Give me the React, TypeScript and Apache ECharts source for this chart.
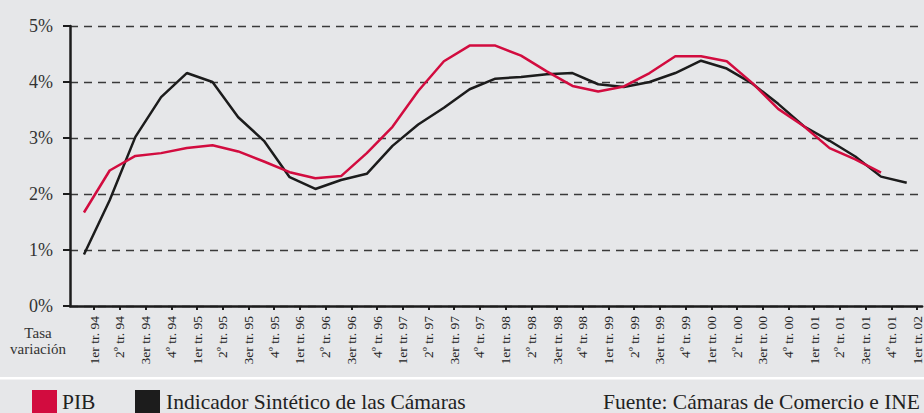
import React, { useEffect, useRef } from "react";
import * as echarts from "echarts";

const categories = [
  "1er tr. 94", "2º tr. 94", "3er tr. 94", "4º tr. 94",
  "1er tr. 95", "2º tr. 95", "3er tr. 95", "4º tr. 95",
  "1er tr. 96", "2º tr. 96", "3er tr. 96", "4º tr. 96",
  "1er tr. 97", "2º tr. 97", "3er tr. 97", "4º tr. 97",
  "1er tr. 98", "2º tr. 98", "3er tr. 98", "4º tr. 98",
  "1er tr. 99", "2º tr. 99", "3er tr. 99", "4º tr. 99",
  "1er tr. 00", "2º tr. 00", "3er tr. 00", "4º tr. 00",
  "1er tr. 01", "2º tr. 01", "3er tr. 01", "4º tr. 01",
  "1er tr. 02",
];

const pib: (number | null)[] = [
  1.67, 2.42, 2.68, 2.73, 2.82, 2.87, 2.76, 2.58,
  2.39, 2.28, 2.32, 2.73, 3.2, 3.84, 4.37, 4.65,
  4.65, 4.47, 4.19, 3.93, 3.83, 3.92, 4.16, 4.46,
  4.46, 4.37, 3.98, 3.52, 3.21, 2.82, 2.62, 2.38,
  null,
];

const indicador: number[] = [
  0.92, 1.89, 3.02, 3.73, 4.16, 4.0, 3.37, 2.95,
  2.3, 2.09, 2.25, 2.36, 2.86, 3.24, 3.54, 3.87,
  4.06, 4.09, 4.14, 4.16, 3.96, 3.91, 4.0, 4.16,
  4.38, 4.24, 3.97, 3.61, 3.21, 2.95, 2.67, 2.31,
  2.2,
];

const yTicks = [0, 1, 2, 3, 4, 5];

const TICK_SHIFT = 0.4;
const FONT = "'Liberation Serif', 'DejaVu Serif', serif";
const RED = "#d20c3f";
const BLACK = "#1c1c1c";

export default function App() {
  const ref = useRef<HTMLDivElement>(null);
  useEffect(() => {
    if (!ref.current) return;
    const chart = echarts.init(ref.current, null, { renderer: "svg" });
    const tickValues = categories.map((_, i) => i + TICK_SHIFT);
    chart.setOption({
      animation: false,
      backgroundColor: "#e6e7e9",
      grid: { left: 70, right: 0, top: 26, bottom: 107, containLabel: false },
      xAxis: {
        type: "value",
        min: -0.543,
        max: 32.6,
        axisLine: { show: true, onZero: false, lineStyle: { color: BLACK, width: 2.5 } },
        axisTick: {
          show: true,
          customValues: tickValues,
          length: 4,
          lineStyle: { color: BLACK, width: 2 },
        },
        axisLabel: {
          show: true,
          customValues: tickValues,
          rotate: 90,
          margin: 10,
          fontSize: 13.5,
          color: "#222",
          fontFamily: FONT,
          formatter: (v: number) => categories[Math.round(v - TICK_SHIFT)] ?? "",
        },
        splitLine: { show: false },
      },
      yAxis: {
        type: "value",
        min: 0,
        max: 5,
        interval: 1,
        axisLine: { show: true, onZero: false, lineStyle: { color: BLACK, width: 2.5 } },
        axisTick: { show: true, inside: false, length: 7, lineStyle: { color: BLACK, width: 2 } },
        axisLabel: {
          margin: 17,
          fontSize: 18,
          color: "#333",
          fontFamily: FONT,
          formatter: (v: number) => (yTicks.includes(v) ? `${v}%` : ""),
        },
        splitLine: {
          show: true,
          lineStyle: { color: "#3a3a3a", width: 1.4, type: [8, 6] },
        },
      },
      series: [
        {
          name: "Indicador Sintético de las Cámaras",
          type: "line",
          data: indicador.map((v, i) => [i, v]),
          showSymbol: false,
          symbol: "none",
          lineStyle: { color: BLACK, width: 2.5 },
          z: 2,
        },
        {
          name: "PIB",
          type: "line",
          data: pib.map((v, i) => [i, v]),
          showSymbol: false,
          symbol: "none",
          connectNulls: false,
          lineStyle: { color: RED, width: 2.5 },
          z: 3,
        },
      ],
      graphic: [
        {
          type: "text",
          x: 38,
          y: 325,
          style: {
            text: "Tasa\nvariación",
            align: "center",
            verticalAlign: "top",
            fontSize: 15,
            lineHeight: 16,
            fontFamily: FONT,
            fill: "#333",
          },
        },
        {
          type: "rect",
          shape: { x: 0, y: 377, width: 924, height: 2.5 },
          style: { fill: "#ffffff" },
        },
        {
          type: "rect",
          shape: { x: 32, y: 390, width: 25, height: 23 },
          style: { fill: RED },
        },
        {
          type: "text",
          x: 62,
          y: 402,
          style: {
            text: "PIB",
            fontSize: 21.5,
            fontFamily: FONT,
            fill: "#222",
            verticalAlign: "middle",
          },
        },
        {
          type: "rect",
          shape: { x: 135, y: 390, width: 25, height: 23 },
          style: { fill: BLACK },
        },
        {
          type: "text",
          x: 166,
          y: 402,
          style: {
            text: "Indicador Sintético de las Cámaras",
            fontSize: 21.5,
            fontFamily: FONT,
            fill: "#222",
            verticalAlign: "middle",
          },
        },
        {
          type: "text",
          x: 920,
          y: 402,
          style: {
            text: "Fuente: Cámaras de Comercio e INE",
            fontSize: 21.5,
            fontFamily: FONT,
            fill: "#222",
            align: "right",
            verticalAlign: "middle",
          },
        },
      ],
    });
    return () => chart.dispose();
  }, []);
  return (
    <div
      ref={ref}
      style={{ position: "fixed", left: 0, top: 0, width: 924, height: 413 }}
    />
  );
}
